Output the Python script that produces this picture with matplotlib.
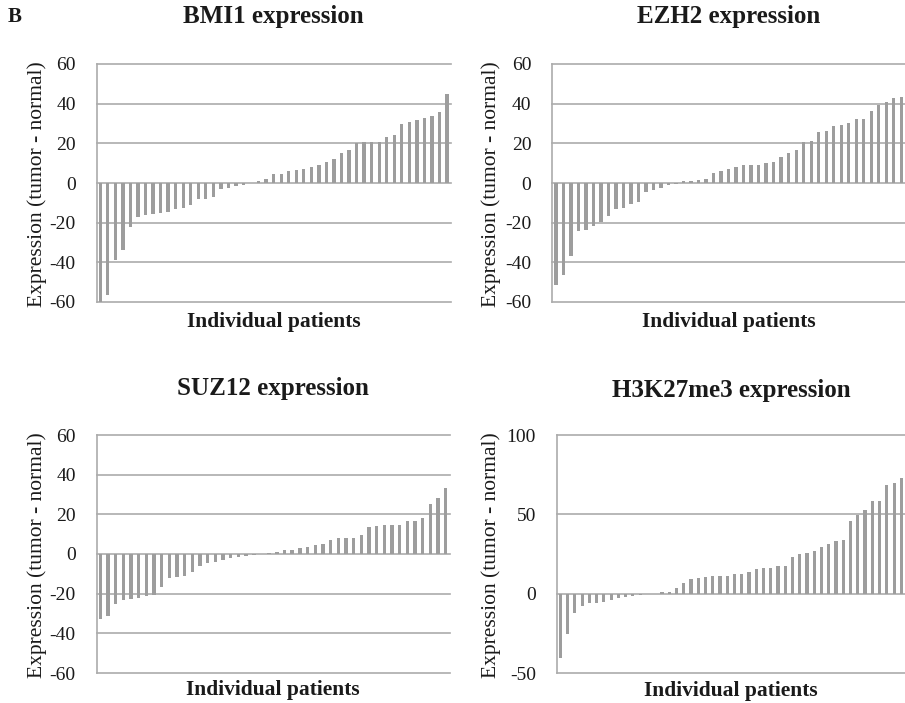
import matplotlib
matplotlib.use("Agg")
import matplotlib.pyplot as plt
import numpy as np

# ---- data ----
bmi1 = [-60.3, -56.3, -38.8, -34.0, -22.2, -17.1, -16.0, -15.5, -15.1, -14.6,
        -12.9, -12.6, -11.3, -8.2, -7.9, -7.1, -2.9, -2.5, -1.5, -0.8,
        -0.2, 1.0, 1.8, 4.4, 4.4, 5.9, 6.4, 7.2, 7.9, 9.1,
        10.4, 11.9, 15.0, 16.8, 20.3, 20.7, 20.8, 20.8, 23.4, 24.0,
        29.6, 30.9, 31.9, 32.6, 33.6, 36.0, 45.0]
ezh2 = [-51.6, -46.2, -37.0, -24.0, -23.7, -21.7, -19.7, -16.5, -13.1, -12.8,
        -10.4, -9.6, -4.5, -3.7, -2.4, -0.8, -0.3, 1.2, 1.2, 1.7,
        2.2, 5.0, 5.9, 7.2, 7.9, 8.9, 8.9, 9.2, 10.3, 10.4,
        12.9, 15.3, 16.6, 20.5, 21.3, 25.7, 26.1, 28.7, 29.1, 30.3,
        32.1, 32.1, 36.3, 39.2, 41.0, 42.7, 43.5]
suz12 = [-32.7, -31.3, -25.2, -23.0, -22.7, -22.2, -21.3, -20.7, -16.8, -12.2,
         -11.7, -11.0, -9.0, -6.3, -4.7, -4.2, -2.8, -1.8, -1.5, -0.8,
         -0.3, 0.1, 0.4, 1.0, 1.8, 1.8, 3.2, 3.7, 4.3, 5.2,
         7.2, 8.3, 8.3, 8.3, 9.5, 13.7, 14.0, 14.8, 14.8, 14.8,
         16.5, 16.5, 18.0, 25.3, 28.2, 33.5]
h3k27 = [-40.7, -25.3, -12.0, -7.8, -6.1, -5.7, -5.1, -4.2, -2.7, -1.9,
         -1.3, -0.6, -0.2, 0.1, 0.8, 1.3, 3.6, 6.5, 9.5, 9.7,
         10.5, 11.4, 11.4, 11.4, 12.2, 12.7, 13.7, 15.6, 16.2, 16.2,
         17.3, 17.3, 23.4, 25.3, 25.5, 27.0, 29.1, 31.0, 32.9, 33.8,
         45.6, 49.8, 53.0, 58.2, 58.2, 68.8, 70.0, 73.2]

titles = ["BMI1 expression", "EZH2 expression", "SUZ12 expression", "H3K27me3 expression"]
series = [bmi1, ezh2, suz12, h3k27]
yticks = [[-60, -40, -20, 0, 20, 40, 60]] * 3 + [[-50, 0, 50, 100]]
xlabel = "Individual patients"
ylabel = "Expression (tumor - normal)"

W, H = 905, 703
fig = plt.figure(figsize=(W / 100, H / 100), dpi=100)
plt.rcParams['font.family'] = ['Liberation Serif', 'DejaVu Serif']

# axes boxes in pixels: left, top, right, bottom
boxes = [(96.5, 64, 450.8, 302),
         (552.2, 64, 905, 302),
         (96.5, 435, 449.5, 673),
         (556.7, 435, 905, 673)]
title_y = [17, 17, 388, 390]
xlab_y = [322, 322, 690, 691]
ylab_x = [37, 491, 37, 491]

bar_color = "#9d9d9d"
grid_color = "#ababab"
text_color = "#1a1a1a"

for i, (vals, (l, t, r, b)) in enumerate(zip(series, boxes)):
    ax = fig.add_axes([l / W, 1 - b / H, (r - l) / W, (b - t) / H])
    x = np.arange(len(vals))
    ax.bar(x, vals, width=0.44, color=bar_color, zorder=3)
    ax.set_xlim(-0.5, len(vals) - 0.5)
    yt = yticks[i]
    ax.set_ylim(yt[0], yt[-1])
    ax.set_yticks(yt)
    ax.set_yticklabels([str(v) for v in yt], fontsize=14, color=text_color)
    ax.tick_params(axis='y', length=0, pad=15)
    ax.set_xticks([])
    for v in yt:
        ax.axhline(v, color=grid_color, lw=1.2, zorder=1, clip_on=False)
    for s in ["top", "right", "bottom"]:
        ax.spines[s].set_visible(False)
    ax.spines["left"].set_color(grid_color)
    ax.spines["left"].set_linewidth(1.2)
    cx = (l + r) / 2
    fig.text(cx / W, 1 - title_y[i] / H, titles[i], ha='center', va='center',
             fontsize=18, fontweight='bold', color=text_color)
    fig.text(cx / W, 1 - xlab_y[i] / H, xlabel, ha='center', va='center',
             fontsize=15.5, fontweight='bold', color=text_color)
    fig.text(ylab_x[i] / W, 1 - ((t + b) / 2 + 1) / H, ylabel, ha='center', va='center',
             rotation=90, fontsize=15.5, color=text_color)

fig.text(15 / W, 1 - 17 / H, "B", ha='center', va='center', fontsize=15,
         fontweight='bold', color=text_color)

fig.savefig("out.png", dpi=100)
